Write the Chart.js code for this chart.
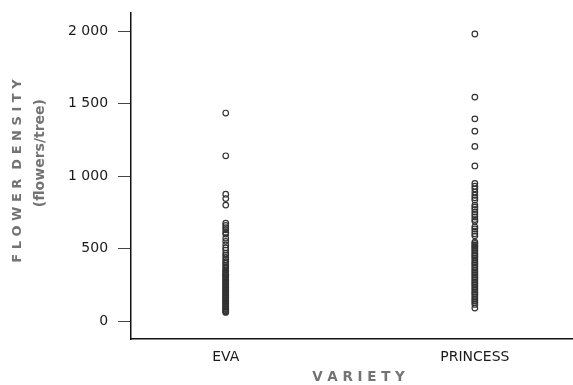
<!DOCTYPE html>
<html>
<head>
<meta charset="utf-8">
<script src="https://cdn.jsdelivr.net/npm/chart.js@4"></script>
<style>
  html, body { margin: 0; padding: 0; background: #fff; }
  #wrap { width: 573px; height: 385px; }
</style>
</head>
<body>
<div id="wrap"><canvas id="chart" width="573" height="385"></canvas></div>
<script>
// --- data ---
const varieties = ['EVA', 'PRINCESS'];
const yTicks = [0, 500, 1000, 1500, 2000];

const evaValues = [1435, 1140, 875, 845, 800, 675, 660, 645, 630, 612, 600, 572, 550,
  525, 505, 490, 468, 455, 440, 425, 410, 400, 386, 375, 362, 350, 342, 330, 322,
  315, 305, 298, 288, 280, 272, 263, 255, 248, 240, 232, 224, 215, 208, 200, 193,
  185, 176, 170, 162, 155, 146, 140, 132, 124, 117, 110, 102, 95, 86, 80, 72, 66, 60];

const princessValues = [1980, 1545, 1395, 1310, 1205, 1070, 950, 930, 912, 890, 868,
  850, 835, 800, 786, 770, 752, 735, 718, 700, 688, 650, 636, 620, 602, 588, 545,
  535, 524, 515, 505, 494, 484, 470, 458, 448, 436, 424, 410, 400, 388, 376, 364,
  352, 340, 330, 318, 306, 294, 282, 270, 260, 248, 236, 224, 212, 200, 190, 178,
  164, 152, 140, 128, 115, 90];

const seriesValues = [evaValues, princessValues];

const fmt = v => String(v).replace(/\B(?=(\d{3})+(?!\d))/g, ' ');
const spaced = s => s.split('').join(' ');

// axis titles: letter-spaced, grey, bold; the y one has two lines that
// are not centred on the same spot, so draw them by hand
const axisTitlePlugin = {
  id: 'axisTitles',
  afterDraw(chart) {
    const { ctx, chartArea } = chart;
    const midY = (chartArea.top + chartArea.bottom) / 2;
    const midX = (chartArea.left + chartArea.right) / 2;
    ctx.save();
    ctx.fillStyle = '#737373';
    ctx.textAlign = 'center';
    ctx.textBaseline = 'middle';

    ctx.save();
    ctx.translate(18, midY - 5);
    ctx.rotate(-Math.PI / 2);
    ctx.font = 'bold 13px "DejaVu Sans"';
    ctx.fillText(spaced('FLOWER') + '  ' + spaced('DENSITY'), 0, 0);
    ctx.restore();

    ctx.save();
    ctx.translate(40, midY - 23);
    ctx.rotate(-Math.PI / 2);
    ctx.font = 'bold 14px "DejaVu Sans"';
    ctx.fillText('(flowers/tree)', 0, 0);
    ctx.restore();

    ctx.font = 'bold 13.5px "DejaVu Sans"';
    ctx.fillText(spaced('VARIETY'), midX + 7, chartArea.bottom + 38);

    ctx.restore();
  }
};

const ctx = document.getElementById('chart').getContext('2d');

new Chart(ctx, {
  type: 'scatter',
  data: {
    datasets: seriesValues.map((vals, i) => ({
      label: varieties[i],
      data: vals.map(v => ({ x: i, y: v })),
      pointStyle: 'circle',
      pointRadius: 2.8,
      pointBorderWidth: 1.2,
      pointBackgroundColor: 'rgba(0,0,0,0)',
      pointBorderColor: '#333'
    }))
  },
  plugins: [axisTitlePlugin],
  options: {
    responsive: false,
    animation: false,
    layout: { autoPadding: false, padding: { left: 58, right: 1, top: 13, bottom: 9 } },
    plugins: {
      legend: { display: false },
      tooltip: { enabled: false }
    },
    scales: {
      x: {
        type: 'linear',
        min: -0.38,
        max: 1.39,
        afterBuildTicks: axis => { axis.ticks = [{ value: 0 }, { value: 1 }]; },
        afterFit: axis => { axis.paddingLeft = 0; axis.paddingRight = 0; },
        ticks: {
          callback: v => varieties[v],
          color: '#1a1a1a',
          padding: 10,
          maxRotation: 0,
          font: { family: 'DejaVu Sans', size: 14 }
        },
        grid: { display: true, drawOnChartArea: false, drawTicks: false },
        border: { display: true, color: '#111', width: 1.5 }
      },
      y: {
        min: -125,
        max: 2125,
        afterBuildTicks: axis => { axis.ticks = yTicks.map(v => ({ value: v })); },
        afterFit: axis => { axis.paddingTop = 0; axis.paddingBottom = 0; },
        ticks: {
          callback: v => fmt(v),
          color: '#1a1a1a',
          padding: 10,
          font: { family: 'DejaVu Sans', size: 14 }
        },
        grid: {
          display: true,
          drawOnChartArea: false,
          drawTicks: true,
          tickLength: 13,
          tickColor: '#444',
          tickWidth: 1
        },
        border: { display: true, color: '#111', width: 1.5 }
      }
    }
  }
});
</script>
</body>
</html>
